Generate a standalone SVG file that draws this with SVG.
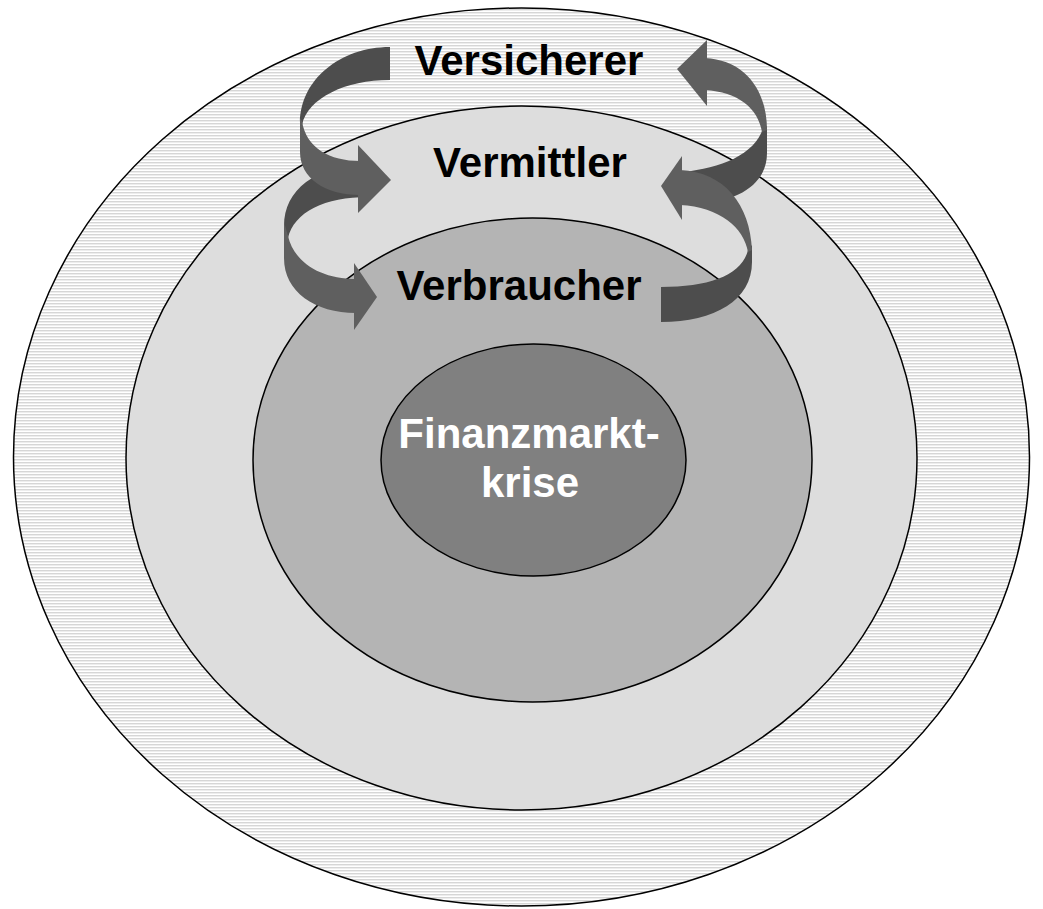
<svg xmlns="http://www.w3.org/2000/svg" width="1043" height="909" viewBox="0 0 1043 909">
<defs>
<pattern id="hatch" width="8" height="3" patternUnits="userSpaceOnUse">
<rect width="8" height="3" fill="#ffffff"/>
<rect y="0" width="8" height="1" fill="#d6d6d6"/>
<rect y="1" width="8" height="1" fill="#ededed"/>
</pattern>
<style>
.ring{stroke:#000;stroke-width:1.5}
.lbl{font-family:"Liberation Sans",Arial,sans-serif;font-weight:bold;font-size:42px;text-anchor:middle;fill:#000}
.wl{fill:#fff}
.dk{fill:#4d4d4d}
.lt{fill:#5f5f5f}
</style>
</defs>
<rect width="1043" height="909" fill="#fff"/>
<g id="versicherer">
<ellipse class="ring" cx="521.5" cy="457" rx="508" ry="449" fill="url(#hatch)"/>
</g>
<g id="vermittler">
<ellipse class="ring" cx="521.5" cy="458" rx="395.5" ry="352" fill="#dddddd"/>
</g>
<g id="verbraucher">
<ellipse class="ring" cx="532.5" cy="460" rx="279.5" ry="242" fill="#b4b4b4"/>
</g>
<g id="finanzmarktkrise">
<ellipse class="ring" cx="533.5" cy="460" rx="152.5" ry="116" fill="#808080"/>
<text class="lbl wl" x="529" y="448">Finanzmarkt-</text>
<text class="lbl wl" x="530" y="497">krise</text>
</g>
<g id="labels">
<text class="lbl" x="529" y="75">Versicherer</text>
<text class="lbl" x="530" y="177">Vermittler</text>
<text class="lbl" x="519" y="300">Verbraucher</text>
</g>
<g id="connectors">
<!-- Arrow B: Vermittler -> Verbraucher (left) -->
<path class="dk" d="M368,165 C315,165 284,190 284,226 L288,238 C294,212 325,197 368,197 Z"/>
<path class="lt" d="M284,222 L284,258 C284,292 315,313 356,313 L356,279 C320,279 294,262 288,236 Z"/>
<polygon class="lt" points="354,263 377,297 354,330"/>
<!-- Arrow A: Versicherer -> Vermittler (left) -->
<path class="dk" d="M390,47 C340,47 300,80 300,123 L302,125 C308,98 345,80 390,80 Z"/>
<path class="lt" d="M300,118 L300,152 C300,178 325,195 360,195 L360,161 C330,161 306,148 302,121 Z"/>
<polygon class="lt" points="358,145 391,180 358,213"/>
<!-- Arrow D: Vermittler -> Versicherer (right) -->
<path class="dk" d="M767,126 L767,153 C767,180 745,200 700,204 L683,172 C720,168 755,155 763,128 Z"/>
<path class="lt" d="M705,58 C745,60 767,90 767,130 L762,132 C758,108 738,92 705,90 Z"/>
<polygon class="lt" points="677,69 707,40 707,106"/>
<!-- Arrow C: Verbraucher -> Vermittler (right) -->
<path class="dk" d="M752,245 L752,262 C752,300 715,322 661,322 L661,287 C710,287 742,275 748,250 Z"/>
<path class="lt" d="M680,170 C725,172 750,205 752,250 L748,252 C744,228 720,207 680,205 Z"/>
<polygon class="lt" points="661,186 682,156 682,220"/>
</g>
</svg>
